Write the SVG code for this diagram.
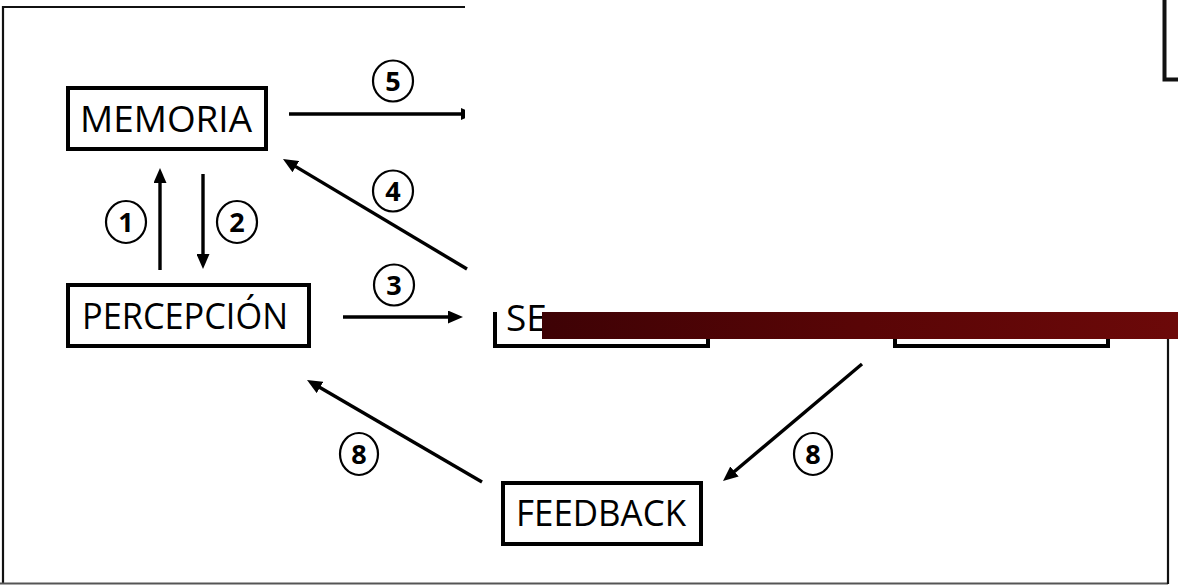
<svg xmlns="http://www.w3.org/2000/svg" width="1178" height="585" viewBox="0 0 1178 585">
  <style>
    .box { fill: none; stroke: #000; stroke-width: 4; }
    .lbl { font-family: "Open Sans", "Liberation Sans", sans-serif; font-size: 37px; fill: #000; }
    .conn { stroke: #000; stroke-width: 3.4; fill: none; }
    .badge { fill: none; stroke: #000; stroke-width: 2.2; }
    .num { font-family: "Open Sans", "Liberation Sans", sans-serif; font-size: 27px; font-weight: bold; fill: #000; text-anchor: middle; }
  </style>
  <defs>
    <marker id="arrow" markerUnits="userSpaceOnUse" viewBox="0 0 15 13" markerWidth="15" markerHeight="13" refX="4" refY="6.5" orient="auto">
      <path d="M0,0 L15,6.5 L0,13 Z" fill="#000"/>
    </marker>
    <linearGradient id="bar" x1="0" y1="0" x2="1" y2="0">
      <stop offset="0" stop-color="#3e0205"/>
      <stop offset="0.5" stop-color="#590506"/>
      <stop offset="1" stop-color="#6c0909"/>
    </linearGradient>
  </defs>

  <rect x="0" y="0" width="1178" height="585" fill="#fff"/>

  <!-- frame (partly visible) -->
  <g id="frame">
    <path d="M3,583 V7 H465" fill="none" stroke="#111" stroke-width="2.2"/>
    <path d="M0,583.5 H1168" fill="none" stroke="#555" stroke-width="2"/>
    <path d="M1168,339 V584" fill="none" stroke="#111" stroke-width="2.2"/>
    <path d="M1164.5,0 V79.5 H1178" fill="none" stroke="#111" stroke-width="4"/>
  </g>

  <!-- nodes -->
  <g id="node-memoria">
    <rect class="box" x="68" y="88" width="198" height="61"/>
    <text class="lbl" x="80" y="132" textLength="172" lengthAdjust="spacingAndGlyphs">MEMORIA</text>
  </g>
  <g id="node-percepcion">
    <rect class="box" x="68" y="285" width="241" height="61"/>
    <text class="lbl" x="82" y="329" textLength="206" lengthAdjust="spacingAndGlyphs">PERCEPCIÓN</text>
  </g>
  <g id="node-se">
    <path class="box" d="M495,312 V346 H708 V339"/>
    <text class="lbl" x="506" y="331">SE</text>
  </g>
  <g id="node-right">
    <path class="box" d="M895,339 V346 H1108 V339"/>
  </g>
  <g id="node-feedback">
    <rect class="box" x="503" y="483" width="198" height="61"/>
    <text class="lbl" x="516" y="526" textLength="170" lengthAdjust="spacingAndGlyphs">FEEDBACK</text>
  </g>

  <!-- connectors -->
  <g id="connectors">
    <line class="conn" x1="160" y1="270" x2="160" y2="179" marker-end="url(#arrow)"/>
    <line class="conn" x1="203" y1="174" x2="203" y2="258" marker-end="url(#arrow)"/>
    <line class="conn" x1="343" y1="317" x2="452" y2="317" marker-end="url(#arrow)"/>
    <line class="conn" x1="289" y1="114" x2="465" y2="114"/>
    <polygon points="461,108 465,109.8 465,118.2 461,120" fill="#000"/>
    <line class="conn" x1="467" y1="269" x2="292.4" y2="164.6" marker-end="url(#arrow)"/>
    <line class="conn" x1="862" y1="364" x2="731.4" y2="474" marker-end="url(#arrow)"/>
    <line class="conn" x1="482" y1="482" x2="316.5" y2="385.5" marker-end="url(#arrow)"/>
  </g>

  <!-- step labels -->
  <g id="labels">
    <ellipse class="badge" cx="393" cy="81" rx="20" ry="20.5"/>
    <text class="num" x="393" y="90.5">5</text>
    <ellipse class="badge" cx="393" cy="191" rx="20" ry="20.5"/>
    <text class="num" x="393" y="200.5">4</text>
    <ellipse class="badge" cx="126" cy="222" rx="20" ry="21"/>
    <text class="num" x="126" y="231.5">1</text>
    <ellipse class="badge" cx="237" cy="222" rx="20" ry="21"/>
    <text class="num" x="237" y="231.5">2</text>
    <ellipse class="badge" cx="394" cy="285" rx="20" ry="20.5"/>
    <text class="num" x="394" y="294.5">3</text>
    <ellipse class="badge" cx="359" cy="454" rx="19" ry="21"/>
    <text class="num" x="359" y="463.5">8</text>
    <ellipse class="badge" cx="813" cy="454" rx="19" ry="21"/>
    <text class="num" x="813" y="463.5">8</text>
  </g>

  <!-- red band over the diagram -->
  <rect id="band" x="542" y="312" width="636" height="27" fill="url(#bar)"/>
</svg>
